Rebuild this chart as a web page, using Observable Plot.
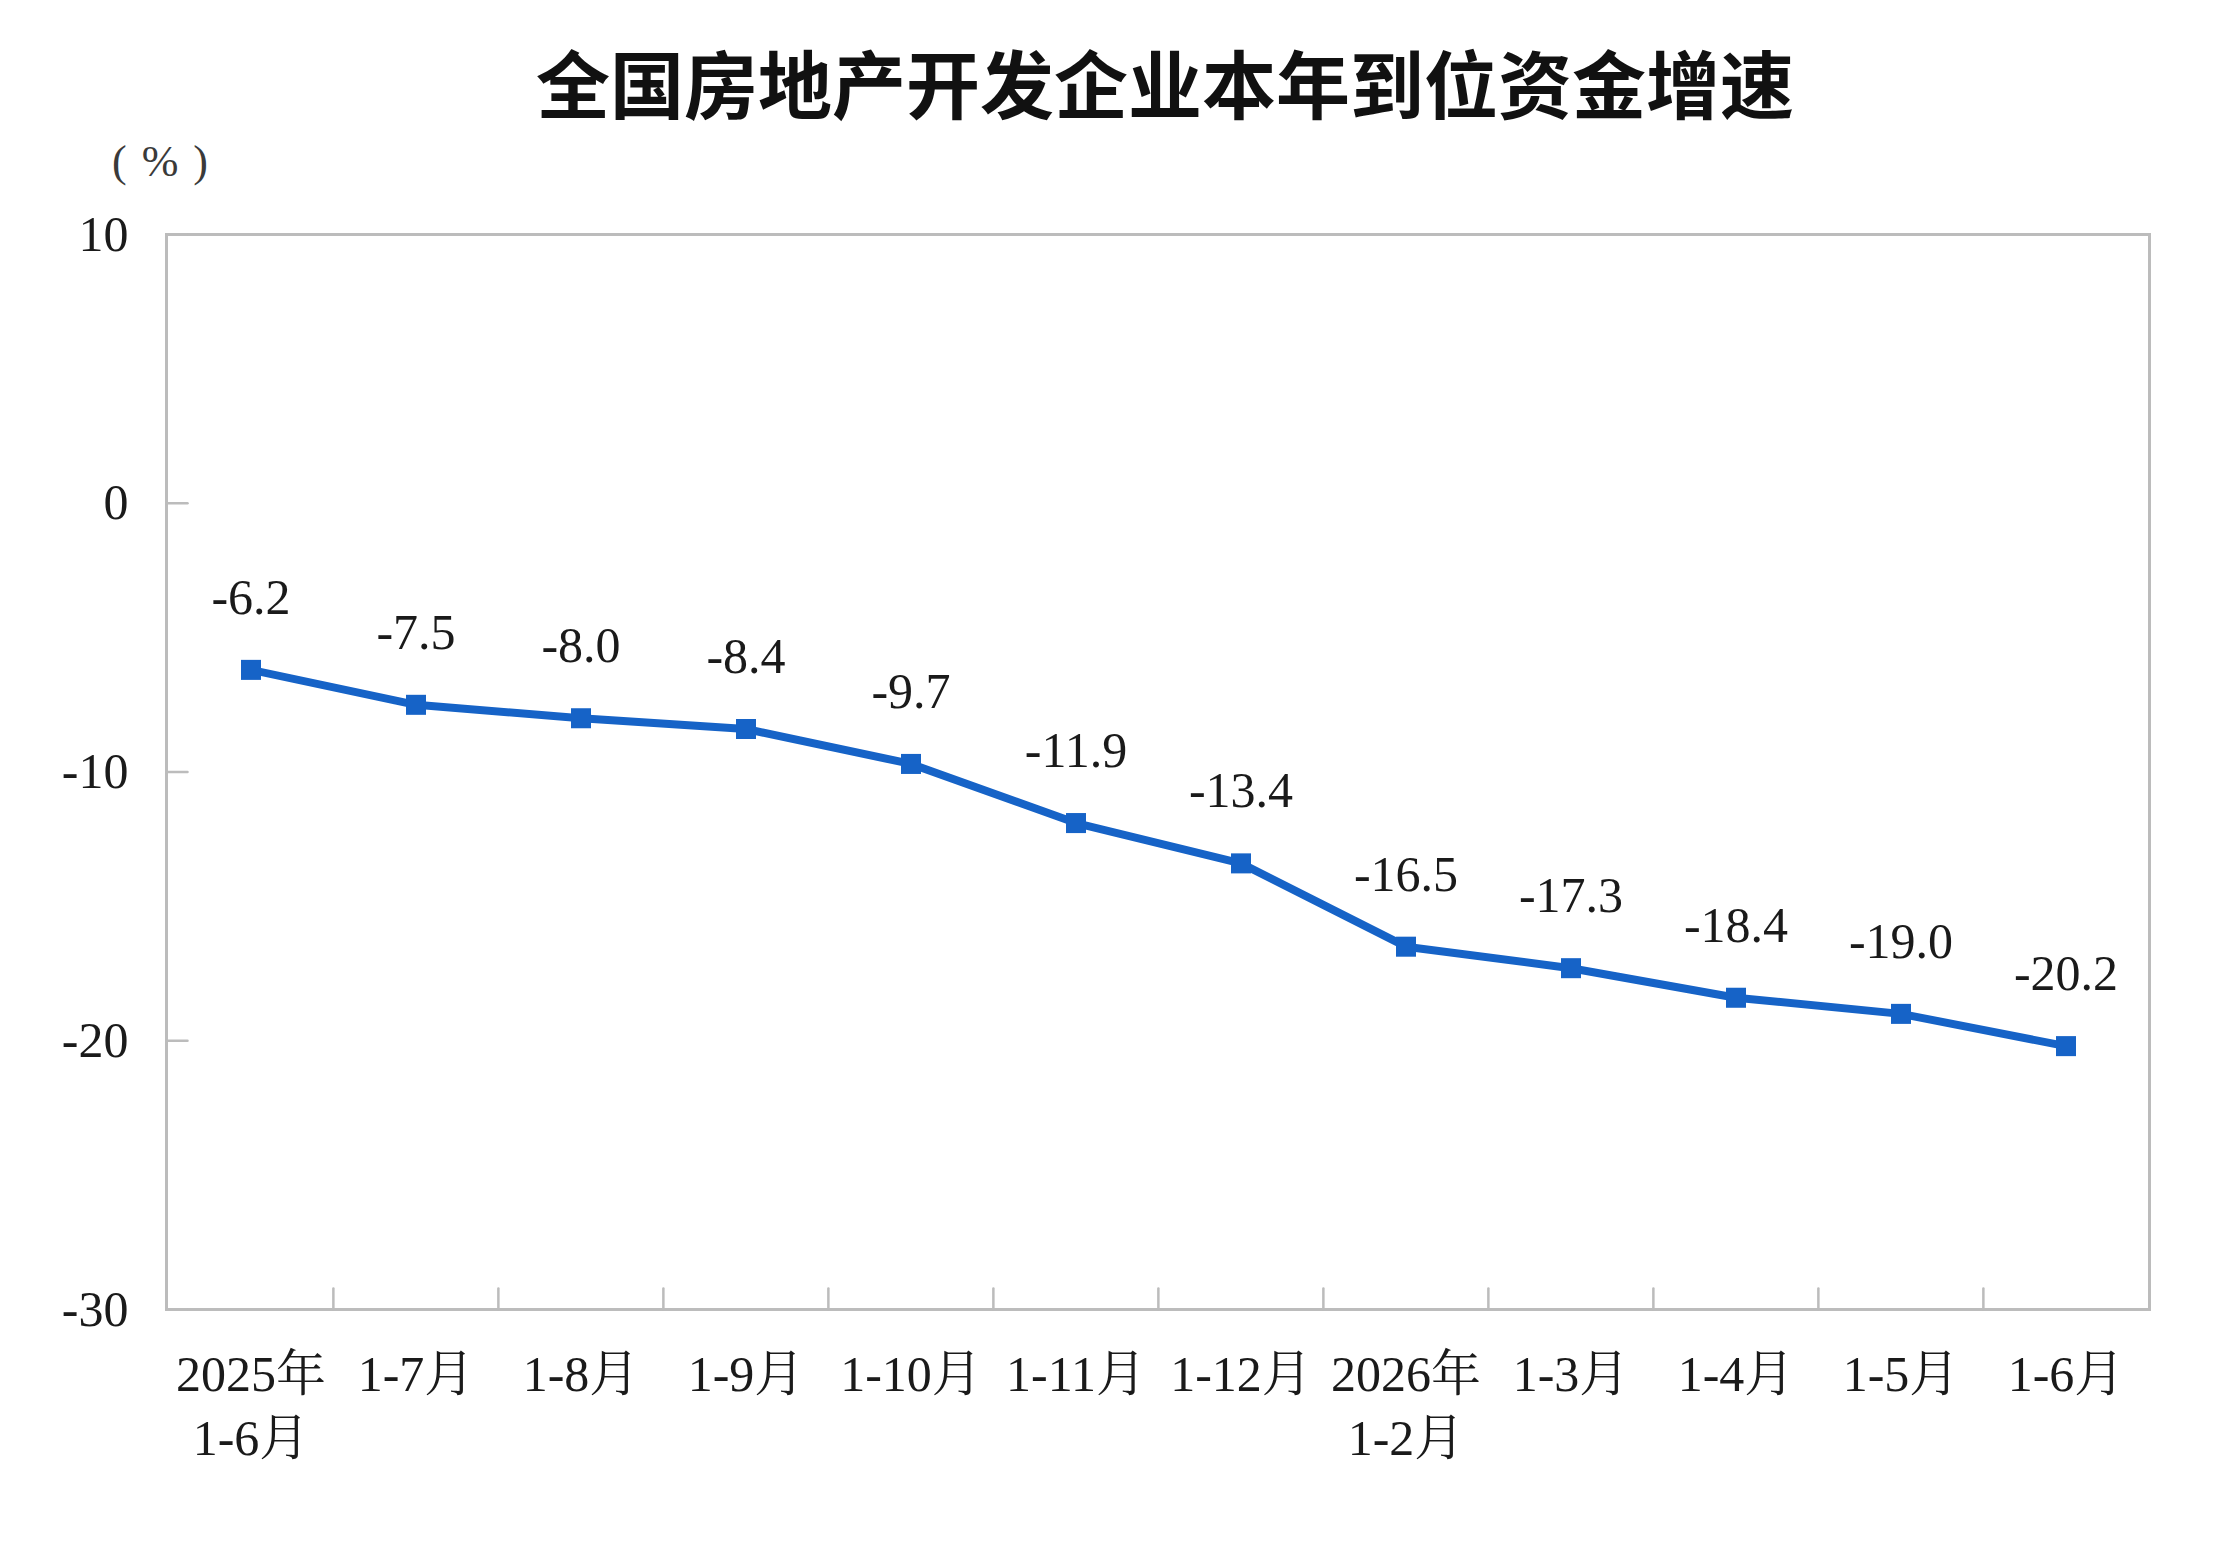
<!DOCTYPE html>
<html>
<head>
<meta charset="utf-8">
<script src="https://cdn.jsdelivr.net/npm/d3@7"></script>
<script src="https://cdn.jsdelivr.net/npm/@observablehq/plot@0.6"></script>
<style>
  html, body { margin: 0; padding: 0; background: #ffffff; }
  #page { position: relative; width: 2224px; height: 1552px; background: #fff; overflow: hidden; }
  #title {
    box-sizing: border-box; width: 2224px; height: 140px;
    padding-top: 22px; padding-left: 106px; line-height: 118px;
    text-align: center; font-family: "Noto Sans CJK SC", sans-serif;
    font-weight: 700; font-size: 74px; color: #111;
  }
  #unit {
    position: absolute; left: 112px; top: 136px; line-height: 52px;
    font-family: "Liberation Serif", serif; font-size: 44px; color: #3a3a3a;
    letter-spacing: 2px; white-space: pre;
  }
</style>
</head>
<body>
<div id="page">
  <div id="title">全国房地产开发企业本年到位资金增速</div>
  <div id="unit">( % )</div>
  <div id="chart"></div>
</div>
<script>
const categories = ["2025年\n1-6月", "1-7月", "1-8月", "1-9月", "1-10月", "1-11月", "1-12月", "2026年\n1-2月", "1-3月", "1-4月", "1-5月", "1-6月"];
const growth = [-6.2, -7.5, -8.0, -8.4, -9.7, -11.9, -13.4, -16.5, -17.3, -18.4, -19.0, -20.2];
const yTicks = [10, 0, -10, -20, -30];

const data = categories.map((c, i) => ({period: c, value: growth[i]}));

const W = 2224, H = 1412, ML = 166, MR = 75, MT = 94, MB = 243;
const bw = (W - ML - MR) / categories.length;
const blue = "#1663c7";
const gray = "#bcbcbc";
const serif = "'Liberation Serif', 'Noto Serif CJK SC', 'Noto Sans CJK SC', serif";

const marks = [
  Plot.frame({stroke: gray, strokeWidth: 3}),
  // inward y tick marks at the left edge
  Plot.vector(yTicks, {y: d => d, frameAnchor: "left", rotate: 90, length: 21, anchor: "start", stroke: gray, strokeWidth: 2.5, shape: {draw(ctx, l) { ctx.moveTo(0, 0); ctx.lineTo(0, -l); }}}),
  // inward x tick marks at band boundaries
  Plot.vector(categories.slice(1), {x: d => d, frameAnchor: "bottom", rotate: 0, length: 21, anchor: "start", dx: -bw / 2, stroke: gray, strokeWidth: 2.5, shape: {draw(ctx, l) { ctx.moveTo(0, 0); ctx.lineTo(0, -l); }}}),
  Plot.line(data, {x: "period", y: "value", stroke: blue, strokeWidth: 8}),
  Plot.dot(data, {x: "period", y: "value", symbol: "square", r: 11.3, fill: blue}),
  Plot.text(data, {x: "period", y: "value", text: d => d.value.toFixed(1), dy: -72, fontSize: 50, fill: "#1a1a1a"})
];
const hasAxisMarks = typeof Plot.axisY === "function";
if (hasAxisMarks) {
  marks.splice(1, 0,
    Plot.axisY(yTicks, {anchor: "left", tickSize: 0, tickPadding: 38, fontSize: 50, tickFormat: d => String(d), label: null}),
    Plot.axisX({anchor: "bottom", tickSize: 0, tickPadding: 36, fontSize: 50, lineHeight: 1.28, label: null})
  );
}

const chart = Plot.plot({
  width: W, height: H,
  marginTop: MT, marginBottom: MB, marginLeft: ML, marginRight: MR,
  style: {fontFamily: serif, fontSize: "50px", background: "#fff", color: "#1a1a1a"},
  x: {type: "band", domain: categories, padding: 0, label: null, tickSize: 0, tickPadding: 36},
  y: {domain: [-30, 10], label: null, ticks: yTicks, tickSize: 0, tickPadding: 38, tickFormat: d => String(d)},
  marks
});
document.getElementById("chart").appendChild(chart);
</script>
</body>
</html>
